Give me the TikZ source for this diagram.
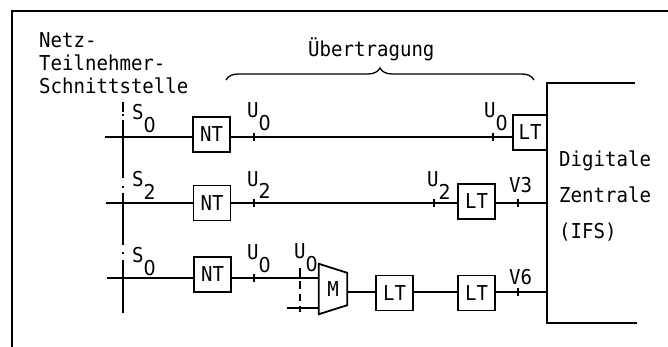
\documentclass[tikz,border=0pt]{standalone}
\usepackage{fontspec}
\newfontfamily\diafont{DejaVu Sans Mono}[FakeStretch=0.93]
\newfontfamily\digfont{DejaVu Sans}[FakeStretch=0.93]
\usetikzlibrary{decorations.pathreplacing,calc}
\newcommand\sublbl[2]{#1\raisebox{-13pt}{\digfont #2}}
\begin{document}
\begin{tikzpicture}[x=1pt,y=-1pt,
  txt/.style={font=\diafont\fontsize{20.5}{24}\selectfont, inner sep=0pt, anchor=base west},
  box/.style={draw, line width=1.8pt, minimum width=37pt, minimum height=35pt, inner sep=0pt,
              font=\diafont\fontsize{20.5}{24}\selectfont},
  wire/.style={line width=1.3pt},
  tickmark/.pic={\draw[line width=1.3pt] (0,-4) -- (0,4);}]
\useasboundingbox (0,0) rectangle (668,347);
% frame
\draw[line width=1.3pt] (12,360) -- (12,11) -- (680,11);
% texts
\node[txt] (t1) at (39,48) {Netz-};
\node[txt] (t2) at (39,71) {Teilnehmer-};
\node[txt] (t3) at (39,94) {Schnittstelle};
\node[txt] (ueb) at (308,57) {Übertragung};
\node[txt] (z1) at (559,167) {Digitale};
\node[txt] (z2) at (559,203) {Zentrale};
\node[txt] (z3) at (559,238) {(IFS)};
% brace
\coordinate (b1) at (226,80);
\coordinate (b2) at (534,80);
\draw[line width=1.3pt, decorate, decoration={brace, amplitude=12pt}] (b1) -- (b2);
% zentrale
\coordinate (zt) at (547,83);
\coordinate (zb) at (547,323);
\draw[line width=1.8pt] ([xshift=88pt]zt) -- (zt) -- (zb) -- ([xshift=90pt]zb);
% boxes
\node[box] (NT1) at (211.5,134.5) {NT};
\node[box, minimum width=34pt] (LT1) at (530,132.5) {LT};
\node[box] (NT2) at (212,203) {NT};
\node[box] (LT2) at (476.5,201.5) {LT};
\node[box] (NT3) at (212.5,274.5) {NT};
\node[box] (LT3a) at (394.5,293) {LT};
\node[box] (LT3b) at (476.5,293) {LT};
\node[minimum width=28pt, minimum height=50pt, inner sep=0pt,
      font=\diafont\fontsize{20.5}{24}\selectfont] (M) at (333,289) {M};
\draw[line width=1.8pt] (M.north west) -- ([yshift=-9pt]M.north east)
   -- ([yshift=9pt]M.south east) -- (M.south west) -- cycle;
% row coordinates
\coordinate (s1) at (105,137);
\coordinate (s2) at (106,203);
\coordinate (s3) at (107,278);
\coordinate (r3) at (350,292);
\coordinate (lo) at (287,308);
\coordinate (d1) at (300,268);
\coordinate (d2) at (300,312);
% wires
\draw[wire] (s1) -- (s1 -| NT1.west);
\draw[wire] (s1 -| NT1.east) -- (s1 -| LT1.west);
\draw[wire] (s2) -- (s2 -| NT2.west);
\draw[wire] (s2 -| NT2.east) -- (s2 -| LT2.west);
\draw[wire] (s2 -| LT2.east) -- (s2 -| zt);
\draw[wire] (s3) -- (s3 -| NT3.west);
\draw[wire] (s3 -| NT3.east) -- (s3 -| M.west);
\draw[wire] (lo) -- (lo -| M.west);
\draw[wire] (r3 -| M.east) -- (r3 -| LT3a.west);
\draw[wire] (r3 -| LT3a.east) -- (r3 -| LT3b.west);
\draw[wire] (r3 -| LT3b.east) -- (r3 -| zt);
\draw[wire, dash pattern=on 9pt off 4pt on 8pt off 5pt on 7pt off 5pt on 6pt] (d1) -- (d2);
% interface line
\draw[wire] (123,102) -- (123,112);
\draw[wire] (123,114.5) -- (123,116.5);
\draw[wire] (123,120) -- (123,178);
\draw[wire] (123,186) -- (123,188);
\draw[wire] (123,193) -- (123,245);
\draw[wire] (123,252) -- (123,254);
\draw[wire] (123,260) -- (123,313);
% ticks
\pic at (254,137) {tickmark};
\pic at (493,137) {tickmark};
\pic at (254,203) {tickmark};
\pic at (434,203) {tickmark};
\pic at (518,203) {tickmark};
\pic at (254,278) {tickmark};
\pic at (518,292) {tickmark};
% labels
\node[txt] (ls1) at (132,120) {\sublbl{S}{0}};
\node[txt] (lu1) at (247,118) {\sublbl{U}{0}};
\node[txt] (lu1r) at (484,118) {\sublbl{U}{0}};
\node[txt] (ls2) at (132,187) {\sublbl{S}{2}};
\node[txt] (lu2) at (247,186) {\sublbl{U}{2}};
\node[txt] (lu2r) at (427,187) {\sublbl{U}{2}};
\node[txt] (lv3) at (509,193) {V3};
\node[txt] (ls3) at (132,262) {\sublbl{S}{0}};
\node[txt] (lu3) at (247,259) {\sublbl{U}{0}};
\node[txt] (lu3m) at (294,258) {\sublbl{U}{0}};
\node[txt] (lv6) at (509,284) {V6};
\end{tikzpicture}
\end{document}
